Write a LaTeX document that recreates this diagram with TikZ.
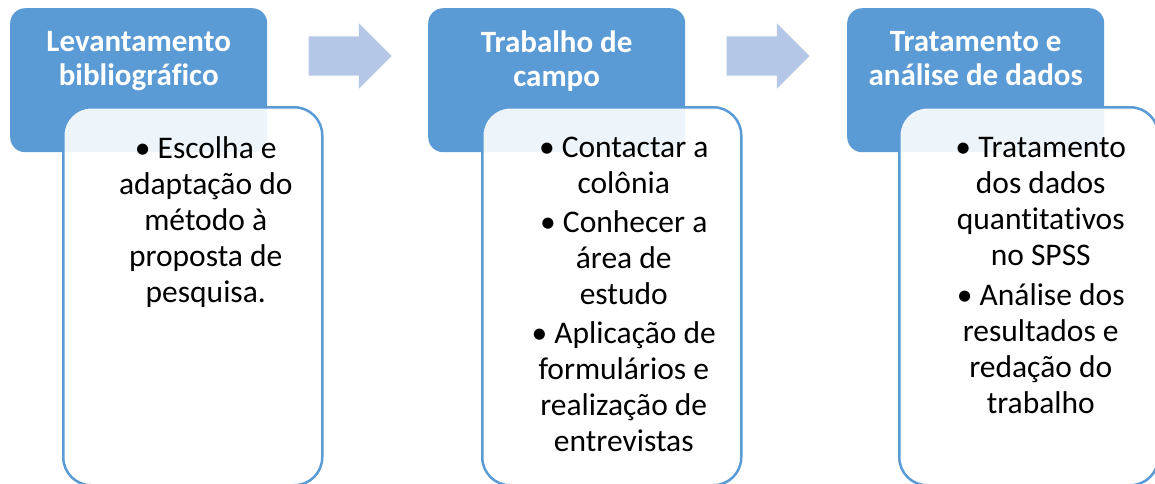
\documentclass[tikz,border=0pt]{standalone}
\usepackage{fontspec}
\setmainfont{Carlito}[Ligatures=NoCommon]
\usetikzlibrary{shapes,arrows,positioning}

\definecolor{cabeca}{HTML}{5B9BD5}
\definecolor{seta}{HTML}{B4C7E7}

\begin{document}
\begin{tikzpicture}[x=1pt,y=-1pt,node distance=418pt]
        % Define block styles
        \tikzstyle{head} = [rectangle, fill=cabeca, rounded corners=15pt, minimum width=257pt, minimum height=144pt, inner sep=0pt]
        \tikzstyle{headtext} = [text=white, font=\fontsize{31}{34}\selectfont\bfseries, align=center, inner sep=0pt]
        \tikzstyle{body} = [rectangle, draw=cabeca, line width=2.5pt, fill=white, fill opacity=0.9, rounded corners=28pt, minimum width=259pt, minimum height=378pt, inner sep=0pt]
        \tikzstyle{bodytext} = [font=\fontsize{31.5}{36}\selectfont, align=center, inner sep=0pt]
        \tikzstyle{nextarrow} = [single arrow, fill=seta, minimum height=83pt, minimum width=65pt, single arrow head extend=13pt, inner xsep=0pt, inner ysep=19.5pt]

        \useasboundingbox (0,0) rectangle (1155,483);

        % Headers
        \node [head, anchor=north west] (lev) at (10,8) {};
        \node [head, right of=lev] (tra) {};
        \node [head, right of=tra, node distance=419pt] (tda) {};

        \node [headtext, below=23pt of lev.north] (levtxt) {Levantamento\\bibliográfico};
        \node [headtext, below=23pt of tra.north] (tratxt) {Trabalho de\\campo};
        \node [headtext, below=23pt of tda.north] (tdatxt) {Tratamento e\\análise de dados};

        % Bodies
        \node [body, below right=98pt and 52pt of lev.north west] (levbody) {};
        \node [body, below right=98pt and 53pt of tra.north west] (trabody) {};
        \node [body, below right=98pt and 51pt of tda.north west] (tdabody) {};

        \node [bodytext, below=30pt of levbody.north, xshift=13pt] (levlist)
            {• Escolha e\\adaptação do\\método à\\proposta de\\pesquisa.};
        \node [bodytext, below=31pt of trabody.north, xshift=12pt] (tralist)
            {• Contactar a\\colônia\\[3pt]• Conhecer a\\área de\\estudo\\[3pt]• Aplicação de\\formulários e\\realização de\\entrevistas};
        \node [bodytext, below=31pt of tdabody.north, xshift=12pt] (tdalist)
            {• Tratamento\\dos dados\\quantitativos\\no SPSS\\[4pt]• Análise dos\\resultados e\\redação do\\trabalho};

        % Arrows
        \node [nextarrow, anchor=west] (seta1) at ([xshift=41pt,yshift=-48pt]lev.north east) {};
        \node [nextarrow, anchor=west] (seta2) at ([xshift=41pt,yshift=-48pt]tra.north east) {};

    \end{tikzpicture}
\end{document}
